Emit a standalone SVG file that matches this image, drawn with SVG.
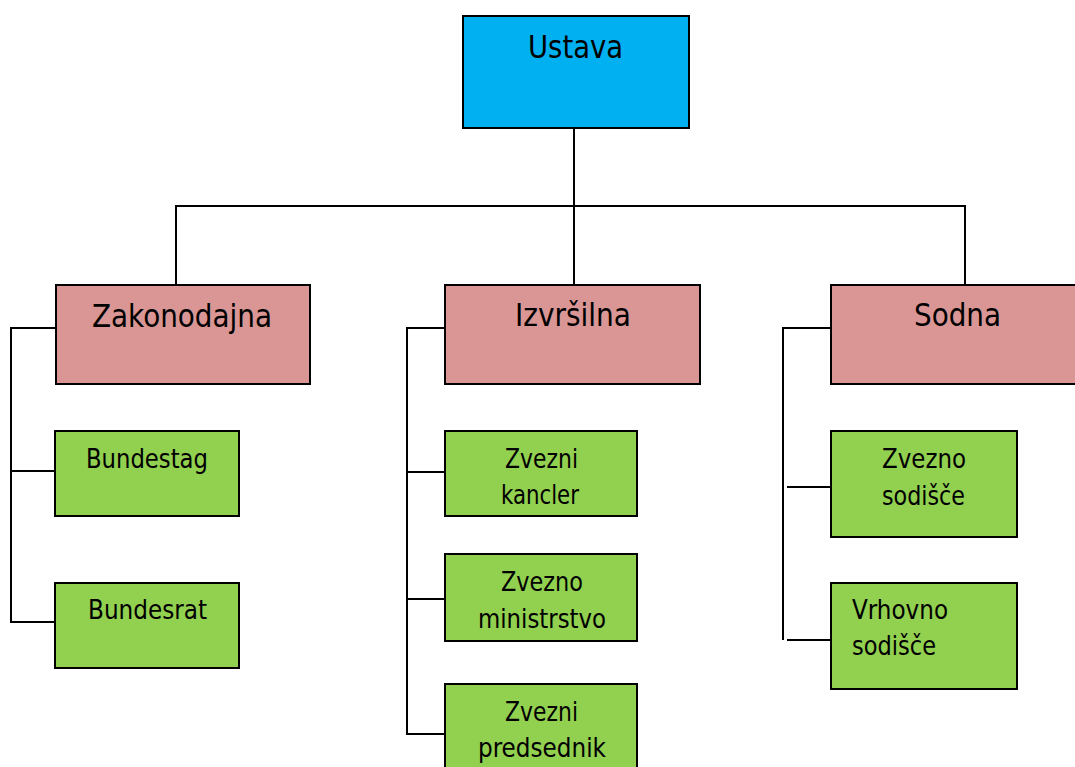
<svg xmlns="http://www.w3.org/2000/svg" width="1075" height="767" viewBox="0 0 1075 767">
<style>
rect{stroke:#000;stroke-width:2}
.b{fill:#00B0F0}
.p{fill:#D99694}
.g{fill:#92D050}
text{font-family:"DejaVu Sans Condensed","DejaVu Sans",sans-serif;font-stretch:condensed;fill:#000}
.L{font-size:32px;text-anchor:middle}
.S{font-size:27px;text-anchor:middle}
.V{font-size:27px}
.c path{fill:none;stroke:#000;stroke-width:2}
</style>
<rect width="1075" height="767" fill="#fff" style="stroke:none"/>
<g class="c" id="connectors">
<path d="M574 128V285M176 285V206H965V285"/>
<path d="M56 328H11V622H56M11 471H56"/>
<path d="M445 328H407V734H445M407 472H445M407 599H445"/>
<path d="M831 328H783V640M787 487H831M787 640H831"/>
</g>
<g id="ustava"><rect class="b" x="463" y="16" width="226" height="112"/><text class="L" x="575.5" y="58" textLength="95" lengthAdjust="spacingAndGlyphs">Ustava</text></g>
<g id="zakonodajna"><rect class="p" x="56" y="285" width="254" height="99"/><text class="L" x="182" y="327" textLength="180" lengthAdjust="spacingAndGlyphs">Zakonodajna</text></g>
<g id="izvrsilna"><rect class="p" x="445" y="285" width="255" height="99"/><text class="L" x="573" y="326" textLength="116" lengthAdjust="spacingAndGlyphs">Izvršilna</text></g>
<g id="sodna"><rect class="p" x="831" y="285" width="256" height="99"/><text class="L" x="957.5" y="326" textLength="87" lengthAdjust="spacingAndGlyphs">Sodna</text></g>
<g id="bundestag"><rect class="g" x="55" y="431" width="184" height="85"/><text class="S" x="147" y="468" textLength="122" lengthAdjust="spacingAndGlyphs">Bundestag</text></g>
<g id="bundesrat"><rect class="g" x="55" y="583" width="184" height="85"/><text class="S" x="147.5" y="619" textLength="119" lengthAdjust="spacingAndGlyphs">Bundesrat</text></g>
<g id="kancler"><rect class="g" x="445" y="431" width="192" height="85"/><text class="S" x="541.5" y="468" textLength="73" lengthAdjust="spacingAndGlyphs">Zvezni</text><text class="S" x="540" y="504" textLength="78" lengthAdjust="spacingAndGlyphs">kancler</text></g>
<g id="ministrstvo"><rect class="g" x="445" y="554" width="192" height="87"/><text class="S" x="542" y="591" textLength="82" lengthAdjust="spacingAndGlyphs">Zvezno</text><text class="S" x="542" y="628" textLength="128" lengthAdjust="spacingAndGlyphs">ministrstvo</text></g>
<g id="predsednik"><rect class="g" x="445" y="684" width="192" height="100"/><text class="S" x="541.5" y="721" textLength="73" lengthAdjust="spacingAndGlyphs">Zvezni</text><text class="S" x="542" y="757" textLength="128" lengthAdjust="spacingAndGlyphs">predsednik</text></g>
<g id="zvezno-sodisce"><rect class="g" x="831" y="431" width="186" height="106"/><text class="S" x="924" y="468" textLength="84" lengthAdjust="spacingAndGlyphs">Zvezno</text><text class="S" x="923.5" y="505" textLength="83" lengthAdjust="spacingAndGlyphs">sodišče</text></g>
<g id="vrhovno-sodisce"><rect class="g" x="831" y="583" width="186" height="106"/><text class="V" x="852" y="619" textLength="96" lengthAdjust="spacingAndGlyphs">Vrhovno</text><text class="V" x="852" y="655" textLength="84" lengthAdjust="spacingAndGlyphs">sodišče</text></g>
</svg>
